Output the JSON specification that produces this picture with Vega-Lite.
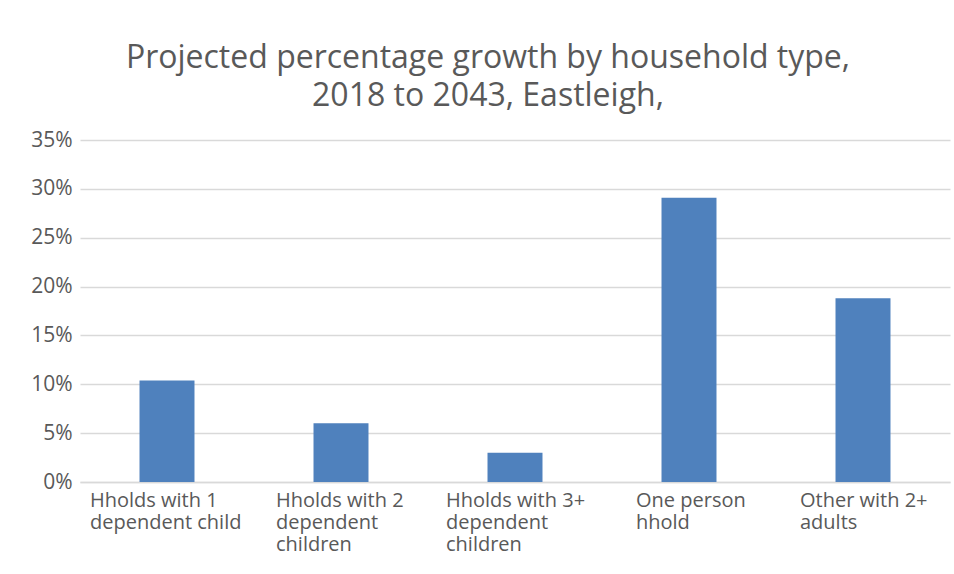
{
  "$schema": "https://vega.github.io/schema/vega-lite/v6.json",
  "width": 870,
  "height": 342,
  "autosize": {"type": "none"},
  "padding": {"left": 80, "top": 140, "right": 4, "bottom": 92},
  "background": "white",
  "title": {
    "text": ["Projected percentage growth by household type,", "2018 to 2043, Eastleigh,"],
    "font": "Open Sans",
    "fontSize": 32,
    "fontWeight": "normal",
    "color": "#595959",
    "lineHeight": 38,
    "anchor": "middle",
    "dx": -27,
    "dy": 39,
    "offset": 30,
    "baseline": "alphabetic"
  },
  "data": {
    "values": [
      {"type": "Hholds with 1|dependent child", "growth": 0.104},
      {"type": "Hholds with 2|dependent|children", "growth": 0.060},
      {"type": "Hholds with 3+|dependent|children", "growth": 0.030},
      {"type": "One person|hhold", "growth": 0.291},
      {"type": "Other with 2+|adults", "growth": 0.188}
    ]
  },
  "mark": {"type": "bar", "color": "#4f81bd"},
  "encoding": {
    "x": {
      "field": "type",
      "type": "nominal",
      "sort": null,
      "scale": {"paddingInner": 0.684, "paddingOuter": 0.342},
      "axis": {
        "title": null,
        "labelExpr": "split(datum.label, '|')",
        "labelAngle": 0,
        "labelFont": "Open Sans",
        "labelFontSize": 20,
        "labelColor": "#595959",
        "labelLineHeight": 22,
        "labelPadding": 8,
        "labelBaseline": "top",
        "labelAlign": "left",
        "labelOffset": {
          "condition": [
            {"test": "indexof(datum.value, 'Hholds with 1') == 0", "value": -77},
            {"test": "indexof(datum.value, 'Hholds with 2') == 0", "value": -65},
            {"test": "indexof(datum.value, 'Hholds with 3') == 0", "value": -69},
            {"test": "indexof(datum.value, 'One') == 0", "value": -53}
          ],
          "value": -63
        },
        "labelLimit": 300,
        "ticks": false,
        "domain": true,
        "domainColor": "#d9d9d9",
        "domainWidth": 1.5
      }
    },
    "y": {
      "field": "growth",
      "type": "quantitative",
      "scale": {"domain": [0, 0.35]},
      "axis": {
        "title": null,
        "values": [0, 0.05, 0.1, 0.15, 0.2, 0.25, 0.3, 0.35],
        "format": ".0%",
        "labelFont": "Open Sans",
        "labelFontSize": 21,
        "labelColor": "#595959",
        "labelPadding": 8,
        "ticks": false,
        "domain": false,
        "gridColor": "#d9d9d9",
        "gridWidth": 1.5
      }
    }
  },
  "config": {"view": {"stroke": null}}
}
